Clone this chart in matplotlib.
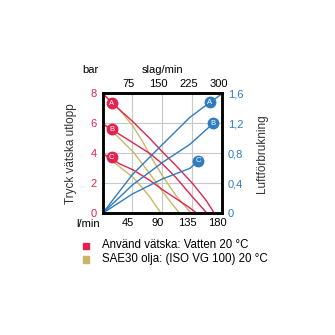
import numpy as np
import matplotlib
matplotlib.use('Agg')
import matplotlib.pyplot as plt
import matplotlib.transforms as mtransforms
from matplotlib.ticker import FuncFormatter

plt.rcParams['font.family'] = ['Liberation Sans', 'DejaVu Sans']

RED = '#e3234f'
OIL = '#c8b766'
BLUE = '#2f7cbf'

# flow l/min vs outlet pressure bar - water (red)
water_x = {'A': [0, 21, 46, 71, 90, 110, 135, 155, 168],
           'B': [0, 21, 46, 71, 90, 110, 135, 157],
           'C': [0, 26, 46, 71, 91, 110, 130, 142]}
water_y = {'A': [8, 7.1, 6.1, 5.0, 4.1, 3.2, 2.0, 0.9, 0],
           'B': [6, 5.4, 4.7, 4.0, 3.3, 2.4, 1.1, 0],
           'C': [4, 3.3, 2.9, 2.2, 1.55, 1.0, 0.4, 0]}
# oil SAE30 (yellow)
oil_x = {'A': [0, 26, 46, 60, 75, 90, 110, 133],
         'B': [0, 21, 46, 65, 80, 91, 105, 116],
         'C': [0, 26, 46, 60, 71, 80, 88]}
oil_y = {'A': [8, 6.9, 5.8, 4.8, 3.6, 2.5, 1.2, 0],
         'B': [6, 5.2, 4.1, 3.0, 2.1, 1.4, 0.6, 0],
         'C': [4, 3.1, 2.4, 1.7, 1.1, 0.5, 0]}
# air consumption (blue, right axis)
air_x = {'A': [0, 45, 90, 131, 161, 180],
         'B': [0, 45, 90, 131, 166],
         'C': [0, 45, 90, 131, 144]}
air_y = {'A': [0, 0.52, 0.92, 1.28, 1.48, 1.6],
         'B': [0, 0.38, 0.68, 0.92, 1.2],
         'C': [0, 0.26, 0.46, 0.6, 0.7]}

water_label_pos = {'A': (14, 7.35), 'B': (14, 5.6), 'C': (14, 3.75)}
air_label_pos = {'A': (161, 1.48), 'B': (166, 1.2), 'C': (144, 0.7)}

left_ticks = [0, 2, 4, 6, 8]
bottom_ticks = [45, 90, 135, 180]
top_ticks = [75, 150, 225, 300]
right_ticks = [0, 0.4, 0.8, 1.2, 1.6]

fig = plt.figure(figsize=(3.35, 3.35), dpi=100)
ax = fig.add_axes([0.306, 0.363, 0.358, 0.358])
fs = 8

ax.set_xlim(0, 180)
ax.set_ylim(0, 8)
for gx in [45, 90, 135]:
    ax.axvline(gx, color='#c8c8c8', lw=0.8, zorder=0)
for gy in [2, 4, 6]:
    ax.axhline(gy, color='#c8c8c8', lw=0.8, zorder=0)

for k in ['A', 'B', 'C']:
    ax.plot(oil_x[k], oil_y[k], color=OIL, lw=1.0, zorder=2)
for k in ['A', 'B', 'C']:
    ax.plot(water_x[k], water_y[k], color=RED, lw=1.0, zorder=3)
    mx, my = water_label_pos[k]
    ax.plot(mx, my, 'o', ms=7.5, color=RED, zorder=5, clip_on=False)
    ax.text(mx, my, k, color='white', fontsize=5.5, ha='center', va='center', zorder=6)

ax.set_yticks(left_ticks)
ax.set_xticks(bottom_ticks)
ax.tick_params(axis='y', colors=RED, labelsize=fs, length=0, pad=4)
ax.tick_params(axis='x', colors='black', labelsize=fs, length=0, pad=3)
for s in ax.spines.values():
    s.set_linewidth(1.8)

# labels sit a little left of their ticks in the original
shift = mtransforms.ScaledTranslation(-5 / 100, 0, fig.dpi_scale_trans)
for t in ax.get_xticklabels():
    t.set_transform(t.get_transform() + shift)

ax2 = ax.twinx()
ax2.set_ylim(0, 1.6)
for k in ['A', 'B', 'C']:
    ax2.plot(air_x[k], air_y[k], color=BLUE, lw=1.0, zorder=2)
    mx, my = air_label_pos[k]
    ax2.plot(mx, my, 'o', ms=7.5, color=BLUE, zorder=5, clip_on=False)
    ax2.text(mx, my, k, color='white', fontsize=5.5, ha='center', va='center', zorder=6)
ax2.set_yticks(right_ticks)
ax2.yaxis.set_major_formatter(FuncFormatter(lambda v, p: ('%g' % v).replace('.', ',')))
ax2.tick_params(axis='y', colors=BLUE, labelsize=fs, length=0, pad=4)
for s in ax2.spines.values():
    s.set_linewidth(1.8)

top = ax.secondary_xaxis('top', functions=(lambda x: x * 300 / 180, lambda s: s * 180 / 300))
top.set_xticks(top_ticks)
top.tick_params(labelsize=fs, length=0, pad=3)
shift_top = mtransforms.ScaledTranslation(-4 / 100, 0, fig.dpi_scale_trans)
for t in top.get_xticklabels():
    t.set_transform(t.get_transform() + shift_top)

ax.set_ylabel('Tryck vätska utlopp', fontsize=8.5, color='#333333', labelpad=10)
ax2.set_ylabel('Luftförbrukning', fontsize=8.5, color='#333333', rotation=90, labelpad=9)
fig.text(0.269, 0.791, 'bar', fontsize=fs, ha='center', va='center')
fig.text(0.485, 0.791, 'slag/min', fontsize=fs, ha='center', va='center')
fig.text(0.262, 0.331, 'l/min', fontsize=fs, ha='center', va='center')

fig.patches.append(plt.Rectangle((0.247, 0.256), 0.02, 0.02, color=RED, transform=fig.transFigure))
fig.patches.append(plt.Rectangle((0.247, 0.216), 0.02, 0.02, color=OIL, transform=fig.transFigure))
fig.text(0.303, 0.268, 'Använd vätska: Vatten 20 °C', fontsize=8.3, va='center')
fig.text(0.303, 0.228, 'SAE30 olja: (ISO VG 100) 20 °C', fontsize=8.3, va='center')

fig.savefig('out.png', dpi=100)
